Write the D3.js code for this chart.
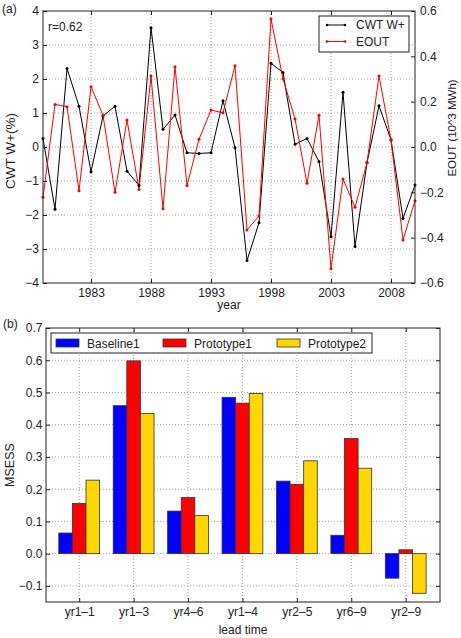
<!DOCTYPE html>
<html>
<head>
<meta charset="UTF-8">
<script src="https://d3js.org/d3.v7.min.js"></script>
<style>
  body { margin: 0; background: #fff; }
  svg { font-family: "Liberation Sans", Arial, sans-serif; }
  .grid line { stroke: #888; stroke-dasharray: 1,2; stroke-width: 0.8; }
  .tick text { font-size: 12px; fill: #222; }
  .frame { fill: none; stroke: #222; stroke-width: 1; }
</style>
</head>
<body>
<svg width="461" height="638"></svg>
<script>

// ---- panel (a) data ----
var years = d3.range(1979, 2011);
var cwt = [0.25, -1.83, 2.31, 1.2, -0.73, 0.91, 1.2, -0.71, -1.13, 3.51,
           0.52, 0.94, -0.17, -0.19, -0.17, 1.36, -0.02, -3.34, -2.23, 2.46,
           2.19, 0.08, 0.25, -0.43, -2.64, 1.61, -2.93, -0.46, 1.21, 0.21,
           -2.1, -1.12];
var eout = [-0.222, 0.188, 0.178, -0.193, 0.266, 0.14, -0.2, 0.119, -0.187, 0.313,
            -0.272, 0.354, -0.17, 0.034, 0.163, 0.151, 0.359, -0.366, -0.304, 0.565,
            0.301, 0.124, -0.16, 0.14, -0.537, -0.141, -0.266, -0.069, 0.313, 0.031,
            -0.41, -0.237];
var yearTicks = [1983, 1988, 1993, 1998, 2003, 2008];
var leftTicks = [-4, -3, -2, -1, 0, 1, 2, 3, 4];
var rightTicks = [-0.6, -0.4, -0.2, 0.0, 0.2, 0.4, 0.6];

// ---- panel (b) data ----
var leads = ["yr1\u20131", "yr1\u20133", "yr4\u20136", "yr1\u20134", "yr2\u20135", "yr6\u20139", "yr2\u20139"];
var seriesNames = ["Baseline1", "Prototype1", "Prototype2"];
var baseline1 = [0.064, 0.459, 0.132, 0.485, 0.225, 0.057, -0.076];
var prototype1 = [0.156, 0.598, 0.174, 0.467, 0.215, 0.357, 0.012];
var prototype2 = [0.228, 0.435, 0.118, 0.497, 0.288, 0.265, -0.123];
var msessTicks = [-0.1, 0.0, 0.1, 0.2, 0.3, 0.4, 0.5, 0.6, 0.7];

var svg = d3.select("svg");
var minus = function(s) { return s.replace("-", "\u2212"); };

// ================= panel (a) =================
var a = {left: 43, right: 415, top: 11, bottom: 283};
var xa = d3.scaleLinear().domain([1979, 2010]).range([a.left, a.right]);
var ya = d3.scaleLinear().domain([-4, 4]).range([a.bottom, a.top]);
var ya2 = d3.scaleLinear().domain([-0.6, 0.6]).range([a.bottom, a.top]);

var ga = svg.append("g");

// grid
ga.append("g").attr("class", "grid")
  .selectAll("line.h").data(leftTicks.slice(1, -1)).enter().append("line")
    .attr("x1", a.left).attr("x2", a.right)
    .attr("y1", function(d) { return ya(d); }).attr("y2", function(d) { return ya(d); });
ga.append("g").attr("class", "grid")
  .selectAll("line.v").data(yearTicks).enter().append("line")
    .attr("y1", a.top).attr("y2", a.bottom)
    .attr("x1", function(d) { return xa(d); }).attr("x2", function(d) { return xa(d); });

// axes, ticks inward
ga.append("g").attr("transform", "translate(0," + a.bottom + ")")
  .call(d3.axisBottom(xa).tickValues(yearTicks).tickFormat(d3.format("d")).tickSizeInner(-4).tickSizeOuter(0).tickPadding(5))
  .call(function(g) { g.select(".domain").remove(); });
ga.append("g").attr("transform", "translate(0," + a.top + ")")
  .call(d3.axisTop(xa).tickValues(yearTicks).tickFormat("").tickSizeInner(-4).tickSizeOuter(0))
  .call(function(g) { g.select(".domain").remove(); });
ga.append("g").attr("transform", "translate(" + a.left + ",0)")
  .call(d3.axisLeft(ya).tickValues(leftTicks).tickFormat(function(d) { return minus(String(d)); }).tickSizeInner(-4).tickSizeOuter(0).tickPadding(4))
  .call(function(g) { g.select(".domain").remove(); });
ga.append("g").attr("transform", "translate(" + a.right + ",0)")
  .call(d3.axisRight(ya2).tickValues(rightTicks).tickFormat(function(d) { return minus(d3.format(".1f")(d)); }).tickSizeInner(-4).tickSizeOuter(0).tickPadding(5))
  .call(function(g) { g.select(".domain").remove(); });
ga.selectAll(".tick line").attr("stroke", "#222");

// lines
var lineA = d3.line().x(function(d, i) { return xa(years[i]); }).y(function(d) { return ya(d); });
var lineB = d3.line().x(function(d, i) { return xa(years[i]); }).y(function(d) { return ya2(d); });

ga.append("path").datum(cwt).attr("d", lineA)
  .attr("fill", "none").attr("stroke", "#000").attr("stroke-width", 1);
ga.append("path").datum(eout).attr("d", lineB)
  .attr("fill", "none").attr("stroke", "#ff0000").attr("stroke-width", 1);
ga.selectAll("circle.c").data(cwt).enter().append("circle")
  .attr("cx", function(d, i) { return xa(years[i]); }).attr("cy", function(d) { return ya(d); })
  .attr("r", 1.5).attr("fill", "#000");
ga.selectAll("circle.e").data(eout).enter().append("circle")
  .attr("cx", function(d, i) { return xa(years[i]); }).attr("cy", function(d) { return ya2(d); })
  .attr("r", 1.5).attr("fill", "#ff0000");

ga.append("rect").attr("class", "frame")
  .attr("x", a.left).attr("y", a.top).attr("width", a.right - a.left).attr("height", a.bottom - a.top);

// legend (a)
var la = ga.append("g");
la.append("rect").attr("x", 319).attr("y", 16).attr("width", 90).attr("height", 36)
  .attr("fill", "#fff").attr("stroke", "#222");
[["CWT W+", "#000"], ["EOUT", "#ff0000"]].forEach(function(e, i) {
  var yy = 25 + i * 16.5;
  la.append("line").attr("x1", 327).attr("x2", 345).attr("y1", yy).attr("y2", yy)
    .attr("stroke", e[1]).attr("stroke-width", 1);
  la.append("circle").attr("cx", 327).attr("cy", yy).attr("r", 1.3).attr("fill", e[1]);
  la.append("circle").attr("cx", 345).attr("cy", yy).attr("r", 1.3).attr("fill", e[1]);
  la.append("text").attr("x", 356).attr("y", yy + 4.3).attr("font-size", 12).attr("fill", "#222").text(e[0]);
});

svg.append("text").attr("x", 48).attr("y", 31).attr("font-size", 12).attr("fill", "#222").text("r=0.62");
svg.append("text").attr("x", 2).attr("y", 13).attr("font-size", 12).attr("fill", "#222").text("(a)");
svg.append("text").attr("x", (a.left + a.right) / 2).attr("y", 309).attr("text-anchor", "middle")
  .attr("font-size", 12).attr("fill", "#222").text("year");
svg.append("text").attr("transform", "translate(14.5,151) rotate(-90)")
  .attr("text-anchor", "middle").attr("font-size", 13.5).attr("fill", "#222").text("CWT W+(%)");
svg.append("text").attr("transform", "translate(456,128) rotate(-90)")
  .attr("text-anchor", "middle").attr("font-size", 11.5).attr("fill", "#222").text("EOUT (10^3 MWh)");

// ================= panel (b) =================
var b = {left: 46, right: 440, top: 328, bottom: 602};
var xb = d3.scaleLinear().domain([-0.61, 6.63]).range([b.left, b.right]);
var yb = d3.scaleLinear().domain([-0.15, 0.7]).range([b.bottom, b.top]);
var colors = ["#0000ff", "#ff0000", "#ffd700"];
var series = [baseline1, prototype1, prototype2];
var barW = 0.25;

var gb = svg.append("g");
gb.append("g").attr("class", "grid")
  .selectAll("line").data(msessTicks.slice(0, -1)).enter().append("line")
    .attr("x1", b.left).attr("x2", b.right)
    .attr("y1", function(d) { return yb(d); }).attr("y2", function(d) { return yb(d); });
gb.append("g").attr("class", "grid")
  .selectAll("line").data(d3.range(leads.length)).enter().append("line")
    .attr("y1", b.top).attr("y2", b.bottom)
    .attr("x1", function(d) { return xb(d); }).attr("x2", function(d) { return xb(d); });

gb.append("g").attr("transform", "translate(0," + b.bottom + ")")
  .call(d3.axisBottom(xb).tickValues(d3.range(leads.length)).tickFormat(function(i) { return leads[i]; }).tickSizeInner(-4).tickSizeOuter(0).tickPadding(5.5))
  .call(function(g) { g.select(".domain").remove(); });
gb.append("g").attr("transform", "translate(0," + b.top + ")")
  .call(d3.axisTop(xb).tickValues(d3.range(leads.length)).tickFormat("").tickSizeInner(-4).tickSizeOuter(0))
  .call(function(g) { g.select(".domain").remove(); });
gb.append("g").attr("transform", "translate(" + b.left + ",0)")
  .call(d3.axisLeft(yb).tickValues(msessTicks).tickFormat(function(d) { return minus(d3.format(".1f")(d)); }).tickSizeInner(-4).tickSizeOuter(0).tickPadding(3.5))
  .call(function(g) { g.select(".domain").remove(); });
gb.append("g").attr("transform", "translate(" + b.right + ",0)")
  .call(d3.axisRight(yb).tickValues(msessTicks).tickFormat("").tickSizeInner(-4).tickSizeOuter(0))
  .call(function(g) { g.select(".domain").remove(); });
gb.selectAll(".tick line").attr("stroke", "#222");

series.forEach(function(vals, s) {
  gb.selectAll("rect.s" + s).data(vals).enter().append("rect")
    .attr("x", function(d, i) { return xb(i - 1.5 * barW + s * barW); })
    .attr("width", xb(barW) - xb(0))
    .attr("y", function(d) { return yb(Math.max(0, d)); })
    .attr("height", function(d) { return Math.abs(yb(d) - yb(0)); })
    .attr("fill", colors[s]).attr("stroke", "#333").attr("stroke-width", 0.8);
});

gb.append("rect").attr("class", "frame")
  .attr("x", b.left).attr("y", b.top).attr("width", b.right - b.left).attr("height", b.bottom - b.top);

// legend (b)
var lb = gb.append("g");
lb.append("rect").attr("x", 51).attr("y", 333).attr("width", 321).attr("height", 20)
  .attr("fill", "#fff").attr("stroke", "#222");
var legX = [56, 163, 277];
seriesNames.forEach(function(n, i) {
  lb.append("rect").attr("x", legX[i]).attr("y", 339).attr("width", 23).attr("height", 8)
    .attr("fill", colors[i]).attr("stroke", "#333").attr("stroke-width", 0.8);
  lb.append("text").attr("x", legX[i] + 31).attr("y", 347.5).attr("font-size", 12).attr("fill", "#222").text(n);
});

svg.append("text").attr("x", 3).attr("y", 328).attr("font-size", 12).attr("fill", "#222").text("(b)");
svg.append("text").attr("x", (b.left + b.right) / 2).attr("y", 634).attr("text-anchor", "middle")
  .attr("font-size", 12).attr("fill", "#222").text("lead time");
svg.append("text").attr("transform", "translate(14," + (b.top + b.bottom) / 2 + ") rotate(-90)")
  .attr("text-anchor", "middle").attr("font-size", 12.5).attr("fill", "#222").text("MSESS");

</script>
</body>
</html>
